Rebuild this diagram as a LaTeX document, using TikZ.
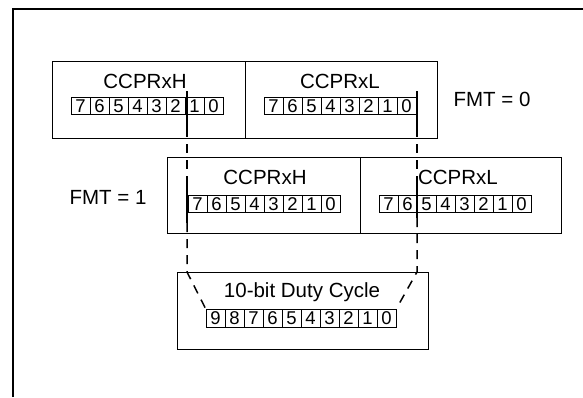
\documentclass[tikz,border=0pt]{standalone}
\usepackage{fontspec}
\setmainfont{Liberation Sans}
\newcommand{\titlefont}{\fontsize{20.5}{23}\selectfont}
\newcommand{\bitfont}{\fontsize{18.5}{20}\selectfont}

\begin{document}
\begin{tikzpicture}[x=1pt, y=-1pt,
    regbox/.style={draw, line width=1.4pt, inner sep=0pt, anchor=north west},
    cell/.style={draw, line width=0.9pt, minimum width=19pt, minimum height=17pt,
                 inner sep=0pt, font=\bitfont},
    title/.style={font=\titlefont, inner sep=0pt},
    guide/.style={line width=1.5pt},
    guidedash/.style={line width=1.5pt, dash pattern=on 9pt off 7pt}
]
\useasboundingbox (0,0) rectangle (583,397);

% Frame (left and top edges only)
\draw[line width=2.4pt] (13,397) -- (13,9) -- (583,9);

% FMT = 0 : registers
\node[regbox, minimum width=193pt, minimum height=77pt] (hiA) at (52,61) {};
\node[regbox, minimum width=192pt, minimum height=77pt] (loA) at (245,61) {};
\node[title] (hiAname) at (145,81) {CCPRxH};
\node[title] (loAname) at (340,81) {CCPRxL};
\foreach \b [count=\k from 0] in {7,...,0}
    \node[cell] (hiA\b) at (80.5+\k*19,106) {\b};
\foreach \b [count=\k from 0] in {7,...,0}
    \node[cell] (loA\b) at (273.5+\k*19,106) {\b};
\node[font=\titlefont] (fmtA) at (492,99) {FMT = 0};

% FMT = 1 : registers
\node[regbox, minimum width=193pt, minimum height=76pt] (hiB) at (167,157) {};
\node[regbox, minimum width=201pt, minimum height=76pt] (loB) at (360,157) {};
\node[title] (hiBname) at (265,177) {CCPRxH};
\node[title] (loBname) at (458,177) {CCPRxL};
\foreach \b [count=\k from 0] in {7,...,0}
    \node[cell] (hiB\b) at (197.5+\k*19,204) {\b};
\foreach \b [count=\k from 0] in {7,...,0}
    \node[cell] (loB\b) at (388.5+\k*19,204) {\b};
\node[font=\titlefont] (fmtB) at (108,197) {FMT = 1};

% Duty cycle result
\node[regbox, minimum width=251pt, minimum height=77pt] (duty) at (177,272) {};
\node[title] (dutyname) at (302,292) {10-bit Duty Cycle};
\foreach \b [count=\k from 0] in {9,...,0}
    \node[cell, minimum height=18pt] (dc\b) at (215.5+\k*19,318) {\b};

% Guide lines
\coordinate (lA) at (187,91);  \coordinate (lB) at (187,128);
\coordinate (lC) at (187,182); \coordinate (lD) at (187,223);
\coordinate (lE) at (187,272);
\coordinate (rA) at (417,91);  \coordinate (rB) at (417,128);
\coordinate (rC) at (417,178); \coordinate (rD) at (417,218);
\coordinate (rE) at (417,272);

\draw[guide] (lA) -- (lB);
\draw[guidedash] (lB) -- (lC);
\draw[guide] (lC) -- (lD);
\draw[guidedash] (lD) -- (lE) -- (dc9.north west);

\draw[guide] (rA) -- (rB);
\draw[guidedash] (rB) -- (rC);
\draw[guide] (rC) -- (rD);
\draw[guidedash] (rD) -- (rE) -- (dc0.north east);

\end{tikzpicture}
\end{document}
